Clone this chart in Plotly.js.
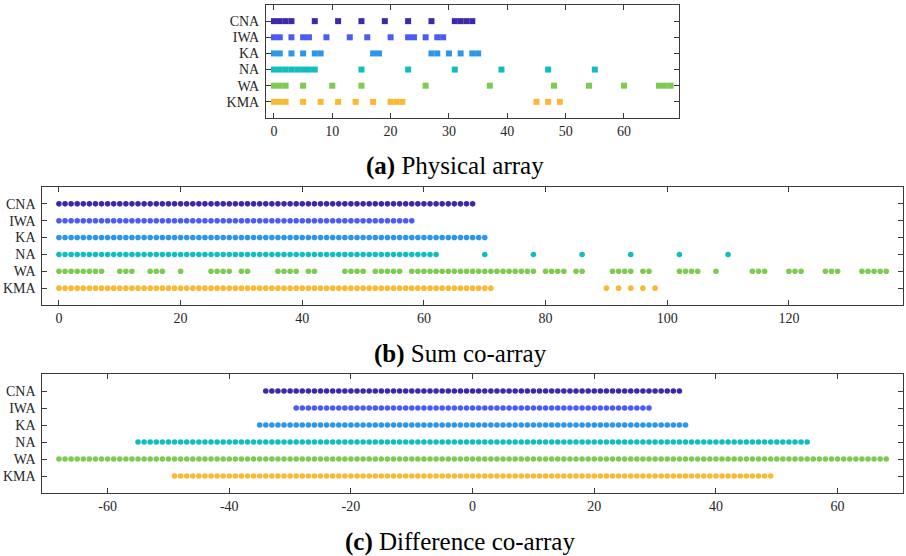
<!DOCTYPE html>
<html>
<head>
<meta charset="utf-8">
<script src="https://cdn.plot.ly/plotly-3.0.1.min.js"></script>
<style>html,body{margin:0;padding:0;background:#fff;}#chart{width:906px;height:556px;}</style>
</head>
<body>
<div id="chart"></div>
<script>
// ---------- data ----------
var labels = ['CNA', 'IWA', 'KA', 'NA', 'WA', 'KMA'];
var colors = ['#3e27a9', '#4a5cf2', '#2b96ea', '#12bdbf', '#7ecb52', '#fbb833'];

// (a) physical array sensor positions
var CNA_pos = [0,1,2,3,7,11,15,19,23,27,31,32,33,34];
var IWA_pos = [0,1,3,5,6,9,13,16,20,23,24,26,28,29];
var KA_pos  = [0,1,3,5,7,8,17,18,27,28,30,32,34,35];
var NA_pos  = [0,1,2,3,4,5,6,7,15,23,31,39,47,55];
var WA_pos  = [0,1,2,5,10,15,26,37,48,54,60,66,67,68];
var KMA_pos = [0,1,2,5,8,11,14,17,20,21,22,45,47,49];

// (b) sum co-array
var CNA_sum = [0,1,2,3,4,5,6,7,8,9,10,11,12,13,14,15,16,17,18,19,20,21,22,23,24,25,26,27,28,29,30,31,32,33,34,35,36,37,38,39,40,41,42,43,44,45,46,47,48,49,50,51,52,53,54,55,56,57,58,59,60,61,62,63,64,65,66,67,68];
var IWA_sum = [0,1,2,3,4,5,6,7,8,9,10,11,12,13,14,15,16,17,18,19,20,21,22,23,24,25,26,27,28,29,30,31,32,33,34,35,36,37,38,39,40,41,42,43,44,45,46,47,48,49,50,51,52,53,54,55,56,57,58];
var KA_sum  = [0,1,2,3,4,5,6,7,8,9,10,11,12,13,14,15,16,17,18,19,20,21,22,23,24,25,26,27,28,29,30,31,32,33,34,35,36,37,38,39,40,41,42,43,44,45,46,47,48,49,50,51,52,53,54,55,56,57,58,59,60,61,62,63,64,65,66,67,68,69,70];
var NA_sum  = [0,1,2,3,4,5,6,7,8,9,10,11,12,13,14,15,16,17,18,19,20,21,22,23,24,25,26,27,28,29,30,31,32,33,34,35,36,37,38,39,40,41,42,43,44,45,46,47,48,49,50,51,52,53,54,55,56,57,58,59,60,61,62,70,78,86,94,102,110];
var WA_sum  = [0,1,2,3,4,5,6,7,10,11,12,15,16,17,20,25,26,27,28,30,31,36,37,38,39,41,42,47,48,49,50,52,53,54,55,56,58,59,60,61,62,63,64,65,66,67,68,69,70,71,72,73,74,75,76,77,78,80,81,82,83,85,86,91,92,93,94,96,97,102,103,104,105,108,114,115,116,120,121,122,126,127,128,132,133,134,135,136];
var KMA_sum = [0,1,2,3,4,5,6,7,8,9,10,11,12,13,14,15,16,17,18,19,20,21,22,23,24,25,26,27,28,29,30,31,32,33,34,35,36,37,38,39,40,41,42,43,44,45,46,47,48,49,50,51,52,53,54,55,56,57,58,59,60,61,62,63,64,65,66,67,68,69,70,71,90,92,94,96,98];

// (c) difference co-array
var CNA_diff = [-34,-33,-32,-31,-30,-29,-28,-27,-26,-25,-24,-23,-22,-21,-20,-19,-18,-17,-16,-15,-14,-13,-12,-11,-10,-9,-8,-7,-6,-5,-4,-3,-2,-1,0,1,2,3,4,5,6,7,8,9,10,11,12,13,14,15,16,17,18,19,20,21,22,23,24,25,26,27,28,29,30,31,32,33,34];
var IWA_diff = [-29,-28,-27,-26,-25,-24,-23,-22,-21,-20,-19,-18,-17,-16,-15,-14,-13,-12,-11,-10,-9,-8,-7,-6,-5,-4,-3,-2,-1,0,1,2,3,4,5,6,7,8,9,10,11,12,13,14,15,16,17,18,19,20,21,22,23,24,25,26,27,28,29];
var KA_diff  = [-35,-34,-33,-32,-31,-30,-29,-28,-27,-26,-25,-24,-23,-22,-21,-20,-19,-18,-17,-16,-15,-14,-13,-12,-11,-10,-9,-8,-7,-6,-5,-4,-3,-2,-1,0,1,2,3,4,5,6,7,8,9,10,11,12,13,14,15,16,17,18,19,20,21,22,23,24,25,26,27,28,29,30,31,32,33,34,35];
var NA_diff  = [-55,-54,-53,-52,-51,-50,-49,-48,-47,-46,-45,-44,-43,-42,-41,-40,-39,-38,-37,-36,-35,-34,-33,-32,-31,-30,-29,-28,-27,-26,-25,-24,-23,-22,-21,-20,-19,-18,-17,-16,-15,-14,-13,-12,-11,-10,-9,-8,-7,-6,-5,-4,-3,-2,-1,0,1,2,3,4,5,6,7,8,9,10,11,12,13,14,15,16,17,18,19,20,21,22,23,24,25,26,27,28,29,30,31,32,33,34,35,36,37,38,39,40,41,42,43,44,45,46,47,48,49,50,51,52,53,54,55];
var WA_diff  = [-68,-67,-66,-65,-64,-63,-62,-61,-60,-59,-58,-57,-56,-55,-54,-53,-52,-51,-50,-49,-48,-47,-46,-45,-44,-43,-42,-41,-40,-39,-38,-37,-36,-35,-34,-33,-32,-31,-30,-29,-28,-27,-26,-25,-24,-23,-22,-21,-20,-19,-18,-17,-16,-15,-14,-13,-12,-11,-10,-9,-8,-7,-6,-5,-4,-3,-2,-1,0,1,2,3,4,5,6,7,8,9,10,11,12,13,14,15,16,17,18,19,20,21,22,23,24,25,26,27,28,29,30,31,32,33,34,35,36,37,38,39,40,41,42,43,44,45,46,47,48,49,50,51,52,53,54,55,56,57,58,59,60,61,62,63,64,65,66,67,68];
var KMA_diff = [-49,-48,-47,-46,-45,-44,-43,-42,-41,-40,-39,-38,-37,-36,-35,-34,-33,-32,-31,-30,-29,-28,-27,-26,-25,-24,-23,-22,-21,-20,-19,-18,-17,-16,-15,-14,-13,-12,-11,-10,-9,-8,-7,-6,-5,-4,-3,-2,-1,0,1,2,3,4,5,6,7,8,9,10,11,12,13,14,15,16,17,18,19,20,21,22,23,24,25,26,27,28,29,30,31,32,33,34,35,36,37,38,39,40,41,42,43,44,45,46,47,48,49];

// tick labels
var ticksA = [0,10,20,30,40,50,60];
var ticksB = [0,20,40,60,80,100,120];
var ticksC = [-60,-40,-20,0,20,40,60];
var ticksCText = ['-60','-40','-20','0','20','40','60'];

var captions = ['<b>(a)</b> Physical array', '<b>(b)</b> Sum co-array', '<b>(c)</b> Difference co-array'];

// ---------- build ----------
var panels = [
  {sets: [CNA_pos, IWA_pos, KA_pos, NA_pos, WA_pos, KMA_pos], xa: 'x', ya: 'y', symbol: 'square', size: 6},
  {sets: [CNA_sum, IWA_sum, KA_sum, NA_sum, WA_sum, KMA_sum], xa: 'x2', ya: 'y2', symbol: 'circle', size: 5.6},
  {sets: [CNA_diff, IWA_diff, KA_diff, NA_diff, WA_diff, KMA_diff], xa: 'x3', ya: 'y3', symbol: 'circle', size: 5.6}
];

var traces = [];
panels.forEach(function (p) {
  p.sets.forEach(function (arr, i) {
    traces.push({
      type: 'scatter', mode: 'markers',
      x: arr, y: arr.map(function () { return labels[i]; }),
      xaxis: p.xa, yaxis: p.ya,
      marker: {symbol: p.symbol, size: p.size, color: colors[i], line: {width: 0}},
      hoverinfo: 'x+y', showlegend: false, cliponaxis: false
    });
  });
});

var FONT = 'Liberation Serif, DejaVu Serif, serif';
var LINE = '#3a3a3a';
var catOrder = labels.slice().reverse();

function xAxis(domain, range, tickvals, ticktext, anchor) {
  var ax = {
    domain: domain, range: range, anchor: anchor,
    tickmode: 'array', tickvals: tickvals,
    ticks: 'inside', ticklen: 5, tickwidth: 1, tickcolor: LINE,
    showline: true, linecolor: LINE, linewidth: 1, mirror: 'ticks',
    showgrid: false, zeroline: false, fixedrange: true,
    tickfont: {family: FONT, size: 14, color: '#262626'}
  };
  if (ticktext) ax.ticktext = ticktext;
  return ax;
}
function yAxis(domain, anchor) {
  return {
    domain: domain, anchor: anchor, type: 'category',
    categoryorder: 'array', categoryarray: catOrder, range: [-1, 6],
    tickmode: 'array', tickvals: labels, ticktext: labels,
    ticks: 'inside', ticklen: 5, tickwidth: 1, tickcolor: LINE,
    showline: true, linecolor: LINE, linewidth: 1, mirror: 'ticks',
    showgrid: false, zeroline: false, fixedrange: true, ticklabelstandoff: 3,
    tickfont: {family: FONT, size: 14, color: '#262626'}
  };
}

var W = 906, H = 556;
var CAP = {family: FONT, size: 25, color: '#000'};
var layout = {
  width: W, height: H,
  margin: {l: 0, r: 0, t: 0, b: 0},
  paper_bgcolor: '#fff', plot_bgcolor: '#fff',
  showlegend: false,
  xaxis:  xAxis([266 / W, 678.6 / W], [-1.36, 69.36], ticksA, null, 'y'),
  yaxis:  yAxis([1 - 118 / H, 1 - 5 / H], 'x'),
  xaxis2: xAxis([42.4 / W, 902.8 / W], [-2.72, 138.72], ticksB, null, 'y2'),
  yaxis2: yAxis([1 - 305 / H, 1 - 187 / H], 'x2'),
  xaxis3: xAxis([42.4 / W, 902.8 / W], [-70.72, 70.72], ticksC, ticksCText, 'y3'),
  yaxis3: yAxis([1 - 493 / H, 1 - 374 / H], 'x3'),
  annotations: [
    {text: captions[0], xref: 'paper', yref: 'paper', x: 455 / W, y: 1 - 166 / H, showarrow: false, xanchor: 'center', yanchor: 'middle', font: CAP},
    {text: captions[1], xref: 'paper', yref: 'paper', x: 460 / W, y: 1 - 354 / H, showarrow: false, xanchor: 'center', yanchor: 'middle', font: CAP},
    {text: captions[2], xref: 'paper', yref: 'paper', x: 460 / W, y: 1 - 542 / H, showarrow: false, xanchor: 'center', yanchor: 'middle', font: CAP}
  ]
};

Plotly.newPlot('chart', traces, layout, {displayModeBar: false, staticPlot: true});
</script>
</body>
</html>
